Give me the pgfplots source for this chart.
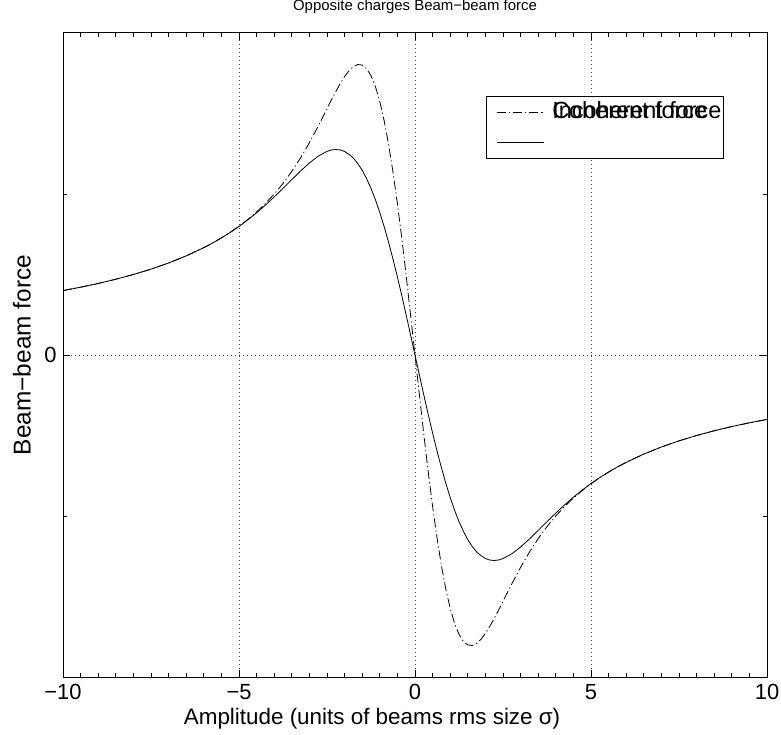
\documentclass[border=0pt]{standalone}
\usepackage{fontspec}
\setmainfont{Liberation Sans}
\usepackage{pgfplots}
\usepackage{pgfplotstable}
\pgfplotsset{compat=1.18}

% x, coherent-type (dash-dot), incoherent-type (solid)
\pgfplotstableread{
x      dd       sl
-10    0.4000   0.4000
-9.5   0.4211   0.4211
-9     0.4444   0.4444
-8.5   0.4706   0.4706
-8     0.5000   0.5000
-7.5   0.5333   0.5333
-7     0.5714   0.5714
-6.5   0.6154   0.6154
-6     0.6667   0.6666
-5.75  0.6957   0.6955
-5.5   0.7273   0.7269
-5.25  0.7619   0.7611
-5     0.8000   0.7985
-4.75  0.8421   0.8391
-4.5   0.8889   0.8833
-4.25  0.9411   0.9309
-4     0.9997   0.9817
-3.75  1.0657   1.0350
-3.5   1.1404   1.0894
-3.25  1.2245   1.1430
-3     1.3185   1.1928
-2.75  1.4214   1.2349
-2.5   1.5297   1.2646
-2.375 1.5839   1.2731
-2.25  1.6363   1.2763
-2.125 1.6855   1.2736
-2     1.7293   1.2642
-1.875 1.7655   1.2460
-1.75  1.7914   1.2228
-1.625 1.8042   1.1890
-1.5   1.8009   1.1473
-1.375 1.7787   1.0950
-1.25  1.7349   1.0348
-1.125 1.6672   0.9650
-1     1.5739   0.8848
-0.875 1.4540   0.7964
-0.75  1.3075   0.6996
-0.625 1.1355   0.5955
-0.5   0.9400   0.4847
-0.375 0.7242   0.3685
-0.25  0.4923   0.2480
0      0        0
0.25   -0.4923  -0.2480
0.375  -0.7242  -0.3685
0.5    -0.9400  -0.4847
0.625  -1.1355  -0.5955
0.75   -1.3075  -0.6996
0.875  -1.4540  -0.7964
1      -1.5739  -0.8848
1.125  -1.6672  -0.9650
1.25   -1.7349  -1.0348
1.375  -1.7787  -1.0950
1.5    -1.8009  -1.1473
1.625  -1.8042  -1.1890
1.75   -1.7914  -1.2228
1.875  -1.7655  -1.2460
2      -1.7293  -1.2642
2.125  -1.6855  -1.2736
2.25   -1.6363  -1.2763
2.375  -1.5839  -1.2731
2.5    -1.5297  -1.2646
2.75   -1.4214  -1.2349
3      -1.3185  -1.1928
3.25   -1.2245  -1.1430
3.5    -1.1404  -1.0894
3.75   -1.0657  -1.0350
4      -0.9997  -0.9817
4.25   -0.9411  -0.9309
4.5    -0.8889  -0.8833
4.75   -0.8421  -0.8391
5      -0.8000  -0.7985
5.25   -0.7619  -0.7611
5.5    -0.7273  -0.7269
5.75   -0.6957  -0.6955
6      -0.6667  -0.6666
6.5    -0.6154  -0.6154
7      -0.5714  -0.5714
7.5    -0.5333  -0.5333
8      -0.5000  -0.5000
8.5    -0.4706  -0.4706
9      -0.4444  -0.4444
9.5    -0.4211  -0.4211
10     -0.4000  -0.4000
}\forcetable

\begin{document}
\begin{tikzpicture}
\path[use as bounding box] (0,0) rectangle (781bp,735bp);
\begin{axis}[
  at={(63bp,58bp)}, anchor=south west,
  scale only axis, width=704bp, height=644bp,
  xmin=-10, xmax=10, ymin=-2, ymax=2,
  xtick={-10,-5,0,5,10}, xticklabels={−10,−5,0,5,10},
  minor x tick num=9,
  ytick={0}, yticklabels={0}, minor ytick={-1,1},
  grid=major,
  grid style={black!75, dash pattern=on 0.8bp off 3.2bp, line width=0.5bp},
  tick align=inside, tick pos=both,
  major tick length=7bp, minor tick length=4bp,
  tick style={black, line width=0.7bp},
  axis line style={black, line width=1bp},
  every tick label/.append style={font=\fontsize{22}{26}\selectfont},
  xticklabel style={anchor=base, yshift=-22bp},
  yticklabel style={xshift=-3bp},
  xlabel={Amplitude (units of beams rms size σ)},
  ylabel={Beam−beam force},
  xlabel style={at={(axis description cs:0.439,-0.073)}, anchor=base, font=\fontsize{22.5}{26}\selectfont},
  ylabel style={at={(axis description cs:-0.046,0.5)}, anchor=base, font=\fontsize{24.5}{28}\selectfont},
  title={Opposite charges Beam−beam force},
  title style={at={(axis description cs:0.5,1.025)}, anchor=base, font=\fontsize{15}{18}\selectfont},
  legend cell align=left,
  legend image code/.code={\path (0bp,0bp); \draw[#1] (10bp,0bp) -- (57bp,0bp);},
  legend style={at={(axis description cs:0.601,0.902)}, anchor=north west,
    draw=black, line width=0.8bp, fill=white,
    font=\fontsize{23.5}{27}\selectfont,
    inner xsep=0bp, inner ysep=1bp, row sep=0bp, column sep=6bp,
    nodes={text height=16bp, text depth=4bp, inner xsep=2bp, inner ysep=5bp}},
]
\addplot[black, line width=0.8bp, dash pattern=on 9bp off 3bp on 1.2bp off 3bp] table[x=x, y=dd] {\forcetable};
\addlegendentry{\rlap{Coherent force}Incoherent force}
\addplot[black, line width=0.8bp] table[x=x, y=sl] {\forcetable};
\addlegendentry{}
\end{axis}
\end{tikzpicture}
\end{document}
